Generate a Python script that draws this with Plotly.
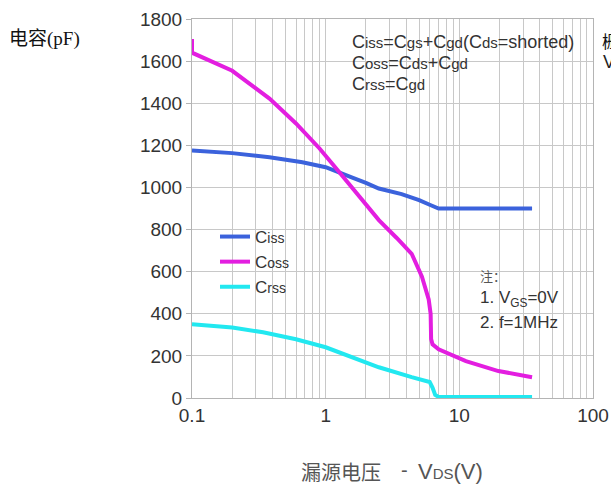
import plotly.graph_objects as go

# ---- data ----
ciss_v = [0.1, 0.2, 0.38, 0.67, 1.0, 1.2, 1.6, 2.0, 2.5, 3.7, 5.0, 6.0, 7.0, 10, 20, 35]
ciss_c = [1176, 1163, 1143, 1120, 1096, 1075, 1045, 1022, 995, 968, 940, 918, 900, 900, 900, 900]

coss_v = [0.1, 0.1, 0.2, 0.38, 0.6, 0.9, 1.2, 1.7, 2.0, 2.5, 3.4, 4.4, 5.25, 5.9, 6.1, 6.15, 6.3, 7.0, 11.2, 19.6, 35]
coss_c = [1705, 1640, 1554, 1422, 1304, 1185, 1090, 975, 926, 845, 760, 685, 576, 468, 400, 280, 255, 231, 175, 128, 99]

crss_v = [0.1, 0.2, 0.34, 0.6, 1.0, 1.58, 2.5, 4.4, 6.0, 6.3, 6.6, 7.0, 35]
crss_c = [350, 335, 312, 279, 241, 194, 146, 99, 76, 50, 15, 5, 5]

x_tickvals = [m * 10 ** e for e in (-1, 0, 1) for m in range(1, 10)] + [100]
x_ticklabels = {0.1: "0.1", 1: "1", 10: "10", 100: "100"}
y_tickvals = list(range(0, 1801, 200))

L, R, T, B = 192, 593, 19, 398
W, H = 611, 486


def px(x):
    return (x - L) / (R - L)


def py(y):
    return (B - y) / (B - T)


def c(sub, size=13):
    return "C<span style='font-size:%dpx'>%s</span>" % (size, sub)


fig = go.Figure()
fig.add_trace(go.Scatter(x=ciss_v, y=ciss_c, mode="lines", name=c("iss", 14),
                         line=dict(color="#3b62dc", width=4)))
fig.add_trace(go.Scatter(x=coss_v, y=coss_c, mode="lines", name=c("oss", 14),
                         line=dict(color="#e31ee0", width=4)))
fig.add_trace(go.Scatter(x=crss_v, y=crss_c, mode="lines", name=c("rss", 14),
                         line=dict(color="#22e8f0", width=4)))

ticktext = []
for v in x_tickvals:
    lab = ""
    for k, s in x_ticklabels.items():
        if abs(v - k) < 1e-9:
            lab = s
    ticktext.append(lab)

tf = dict(family="Liberation Sans, Arial", size=19, color="#333")
fig.update_xaxes(type="log", range=[-1, 2], tickvals=x_tickvals, ticktext=ticktext,
                 showgrid=True, gridcolor="#c8c8c8", gridwidth=1, automargin=False,
                 showline=True, linecolor="#b4b4b4", mirror=True, zeroline=False,
                 ticks="", tickfont=tf)
fig.update_yaxes(range=[0, 1800], tickvals=y_tickvals, automargin=False,
                 showgrid=True, gridcolor="#c8c8c8", gridwidth=1,
                 showline=True, linecolor="#b4b4b4", mirror=True, zeroline=False,
                 ticks="outside", ticklen=5, tickcolor="#b4b4b4", tickfont=tf)

shapes = []
for (x0, y0, x1, y1) in [(343, 25, 593, 103), (203, 222, 312, 305), (470, 262, 580, 340)]:
    shapes.append(dict(type="rect", xref="paper", yref="paper",
                       x0=px(x0), x1=px(x1), y0=py(y1), y1=py(y0),
                       fillcolor="white", line=dict(width=0), layer="between"))

annos = []
sf = "Liberation Sans, Arial"


def txt(x, y, text, size=15, color="#333", family=sf, xanchor="left"):
    annos.append(dict(xref="paper", yref="paper", x=px(x), y=py(y), text=text,
                      showarrow=False, xanchor=xanchor, yanchor="middle",
                      font=dict(family=family, size=size, color=color)))


txt(350, 42, c("iss", 15) + "=" + c("gs", 15) + "+" + c("gd", 15) + "(" + c("ds", 15) + "=shorted)", size=18)
txt(350, 63, c("oss", 15) + "=" + c("ds", 15) + "+" + c("gd", 15), size=18)
txt(350, 84, c("rss", 15) + "=" + c("gd", 15), size=18)

txt(478, 275, "注：", size=13, color="#555", family="Noto Sans CJK SC")
txt(478, 299, "1. V<sub>GS</sub>=0V", size=17)
txt(478, 322, "2. f=1MHz", size=17)

txt(7, 39, "电容(pF)", size=19, color="#111", family="Liberation Serif, Noto Sans CJK SC")

# x-axis title, in three pieces
txt(299, 471, "漏源电压", size=20, color="#555", family="Noto Sans CJK SC")
txt(404, 470, "-", size=20, color="#555", xanchor="center")
txt(416, 471, "V<span style='font-size:15px'>DS</span>(V)", size=22, color="#555")

txt(600, 40, "栅", size=17, color="#111", family="Noto Sans CJK SC")
txt(601, 62, "V", size=18, color="#222")

fig.update_layout(
    width=W, height=H,
    margin=dict(l=L, r=W - R, t=T, b=H - B, autoexpand=False),
    paper_bgcolor="white", plot_bgcolor="white",
    shapes=shapes, annotations=annos,
    showlegend=True,
    legend=dict(x=px(215), y=py(219), xanchor="left", yanchor="top",
                bgcolor="rgba(0,0,0,0)", itemwidth=30,
                font=dict(family=sf, size=17, color="#333"), tracegroupgap=0),
)

fig.write_html("out.html", config={"displayModeBar": False},
               post_script="document.body.style.margin='0px';document.body.style.overflow='hidden';")
